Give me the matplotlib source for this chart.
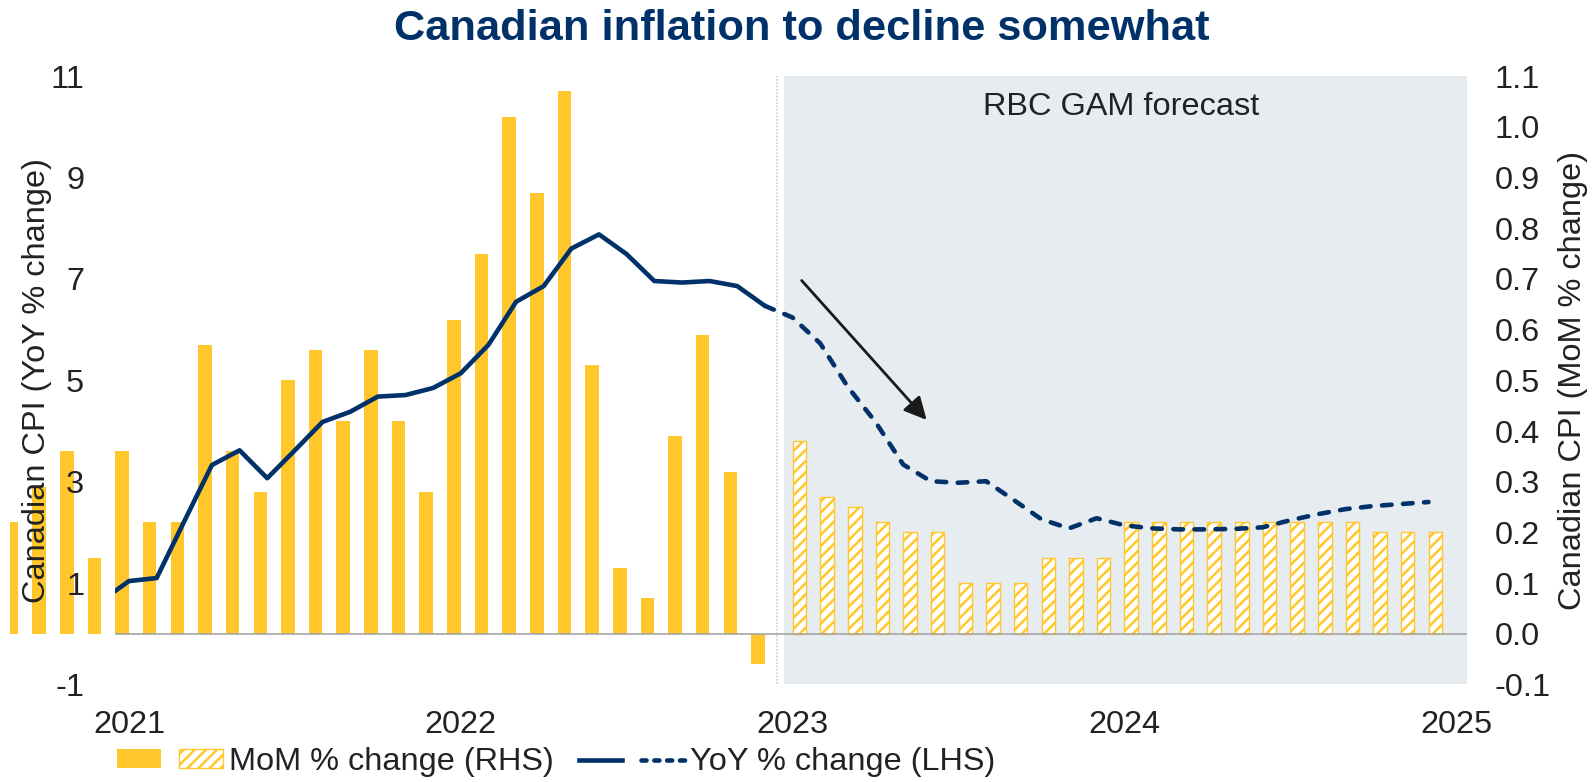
import numpy as np
import pandas as pd
import matplotlib
matplotlib.use('Agg')
import matplotlib.pyplot as plt
from matplotlib.patches import Patch
from matplotlib.lines import Line2D
from matplotlib.legend_handler import HandlerTuple
from matplotlib.transforms import Bbox, TransformedBbox

# Canadian CPI, month-over-month % change (bars, right axis)
mom_actual_months = pd.period_range('2020-09', '2022-12', freq='M')
mom_actual = [0.22, 0.29, 0.36, 0.15,
              0.36, 0.22, 0.22, 0.57, 0.36, 0.28, 0.50, 0.56, 0.42, 0.56, 0.42, 0.28,
              0.62, 0.75, 1.02, 0.87, 1.07, 0.53, 0.13, 0.07, 0.39, 0.59, 0.32, -0.06]
mom_fcst_months = pd.period_range('2023-01', '2024-12', freq='M')
mom_fcst = [0.38, 0.27, 0.25, 0.22, 0.20, 0.20, 0.10, 0.10, 0.10, 0.15, 0.15, 0.15,
            0.22, 0.22, 0.22, 0.22, 0.22, 0.22, 0.22, 0.22, 0.22, 0.20, 0.20, 0.20]

# Canadian CPI, year-over-year % change (line, left axis)
yoy_actual_months = pd.period_range('2020-12', '2022-12', freq='M')
yoy_actual = [0.65,
              1.04, 1.10, 2.22, 3.33, 3.62, 3.07, 3.62, 4.18, 4.38, 4.68, 4.71, 4.85,
              5.14, 5.70, 6.55, 6.86, 7.60, 7.88, 7.49, 6.96, 6.93, 6.96, 6.86, 6.47]
yoy_fcst_months = pd.period_range('2022-12', '2024-12', freq='M')
yoy_fcst = [6.47,
            6.24, 5.73, 4.87, 4.18, 3.34, 3.01, 2.98, 3.01, 2.64, 2.26, 2.08, 2.28,
            2.14, 2.08, 2.06, 2.06, 2.07, 2.10, 2.24, 2.36, 2.46, 2.52, 2.56, 2.60]

years = [2021, 2022, 2023, 2024, 2025]
left_ticks = [-1, 1, 3, 5, 7, 9, 11]
right_ticks = [-0.1, 0.0, 0.1, 0.2, 0.3, 0.4, 0.5, 0.6, 0.7, 0.8, 0.9, 1.0, 1.1]


def month_index(months):
    # months counted from Jan 2021
    return np.asarray((months.year - 2021) * 12 + months.month - 1, dtype=float)


NAVY = '#003168'
YELLOW = '#FFC72C'
SHADE = '#E6ECF0'
TEXT = '#222222'
FS = 23.4
LW = 3.3

plt.rcParams['font.family'] = ['Liberation Sans', 'DejaVu Sans']
plt.rcParams['axes.unicode_minus'] = False
plt.rcParams['hatch.linewidth'] = 1.8
plt.rcParams['hatch.color'] = YELLOW

fig = plt.figure(figsize=(15.95, 7.82), dpi=100)
ax = fig.add_axes([0.0722, 0.1247, 0.8473, 0.7778])
ax2 = ax.twinx()
ax.set_zorder(2)
ax.patch.set_visible(False)
ax2.set_zorder(1)

x_right = 48.38
ax.set_xlim(-0.5, x_right)
ax.set_ylim(-1, 11)
ax2.set_ylim(-0.1, 1.1)

# forecast period
ax2.axvspan(23.7, x_right, color=SHADE, lw=0, zorder=0)
ax2.axvline(23.42, color='#C3D2DC', lw=1.2, ls=(0, (1, 1)), zorder=0.5)

# bars run past the left axis edge
bar_clip = TransformedBbox(Bbox([[-4.3, -0.1], [x_right, 1.1]]), ax2.transData)
b1 = ax2.bar(month_index(mom_actual_months) - 0.25, mom_actual, width=0.49,
             color=YELLOW, lw=0, zorder=2)
b2 = ax2.bar(month_index(mom_fcst_months) + 0.25, mom_fcst, width=0.49,
             facecolor='white', edgecolor=YELLOW, hatch='///', lw=1, zorder=2)
for p in list(b1) + list(b2):
    p.set_clip_box(bar_clip)
ax2.axhline(0, color='#A6A6A6', lw=1.2, zorder=3)

ax.plot(month_index(yoy_actual_months), yoy_actual, color=NAVY, lw=LW,
        solid_joinstyle='round', solid_capstyle='round', zorder=3)
ax.plot(month_index(yoy_fcst_months), yoy_fcst, color=NAVY, lw=LW,
        dashes=(2.1, 2.5), dash_capstyle='round', zorder=3)

ax.annotate('', xy=(28.85, 4.22), xytext=(24.33, 6.97),
            arrowprops=dict(arrowstyle='-|>', color='#1a1a1a', lw=2.0,
                            mutation_scale=34, shrinkA=0, shrinkB=0))
ax.text(35.9, 10.24, 'RBC GAM forecast', ha='center', va='baseline',
        fontsize=FS, color=TEXT)

ax.set_xticks([(y - 2021) * 12 for y in years])
ax.set_xticklabels([str(y) for y in years])
ax.set_yticks(left_ticks)
ax.set_yticklabels([str(v) for v in left_ticks])
ax2.set_yticks(right_ticks)
ax2.set_yticklabels([f'{v:.1f}' for v in right_ticks])
ax.tick_params(axis='x', length=0, pad=18.4, labelsize=FS, colors=TEXT)
ax.tick_params(axis='y', length=0, pad=22.3, labelsize=FS, colors=TEXT)
ax2.tick_params(axis='y', length=0, pad=20.2, labelsize=FS, colors=TEXT)
for a in (ax, ax2):
    for s in a.spines.values():
        s.set_visible(False)

fig.text(37 / 1595, 0.5136, 'Canadian CPI (YoY % change)', rotation=90,
         ha='center', va='center', fontsize=FS, color=TEXT)
fig.text(1573 / 1595, 0.5136, 'Canadian CPI (MoM % change)', rotation=90,
         ha='center', va='center', fontsize=FS, color=TEXT)
fig.text(0.5025, 1 - 39.5 / 782, 'Canadian inflation to decline somewhat',
         ha='center', va='baseline', fontsize=31.2, fontweight='bold', color=NAVY)

h_bar_a = Patch(facecolor=YELLOW, edgecolor='none')
h_bar_f = Patch(facecolor='white', edgecolor=YELLOW, hatch='///', lw=1)
h_line_a = Line2D([], [], color=NAVY, lw=LW)
h_line_f = Line2D([], [], color=NAVY, lw=LW, dashes=(1.1, 1.7), dash_capstyle='round')
leg = fig.legend([(h_bar_a, h_bar_f), (h_line_a, h_line_f)],
                 ['MoM % change (RHS)', 'YoY % change (LHS)'],
                 handler_map={tuple: HandlerTuple(ndivide=None, pad=0.58)},
                 loc='center left', bbox_to_anchor=(117 / 1595, 1 - 762 / 782),
                 ncol=2, frameon=False, fontsize=FS, handlelength=3.26,
                 handleheight=0.52, handletextpad=0.18, columnspacing=0.77,
                 borderpad=0, borderaxespad=0)
for t in leg.get_texts():
    t.set_color(TEXT)

fig.savefig('out.png', dpi=100)
